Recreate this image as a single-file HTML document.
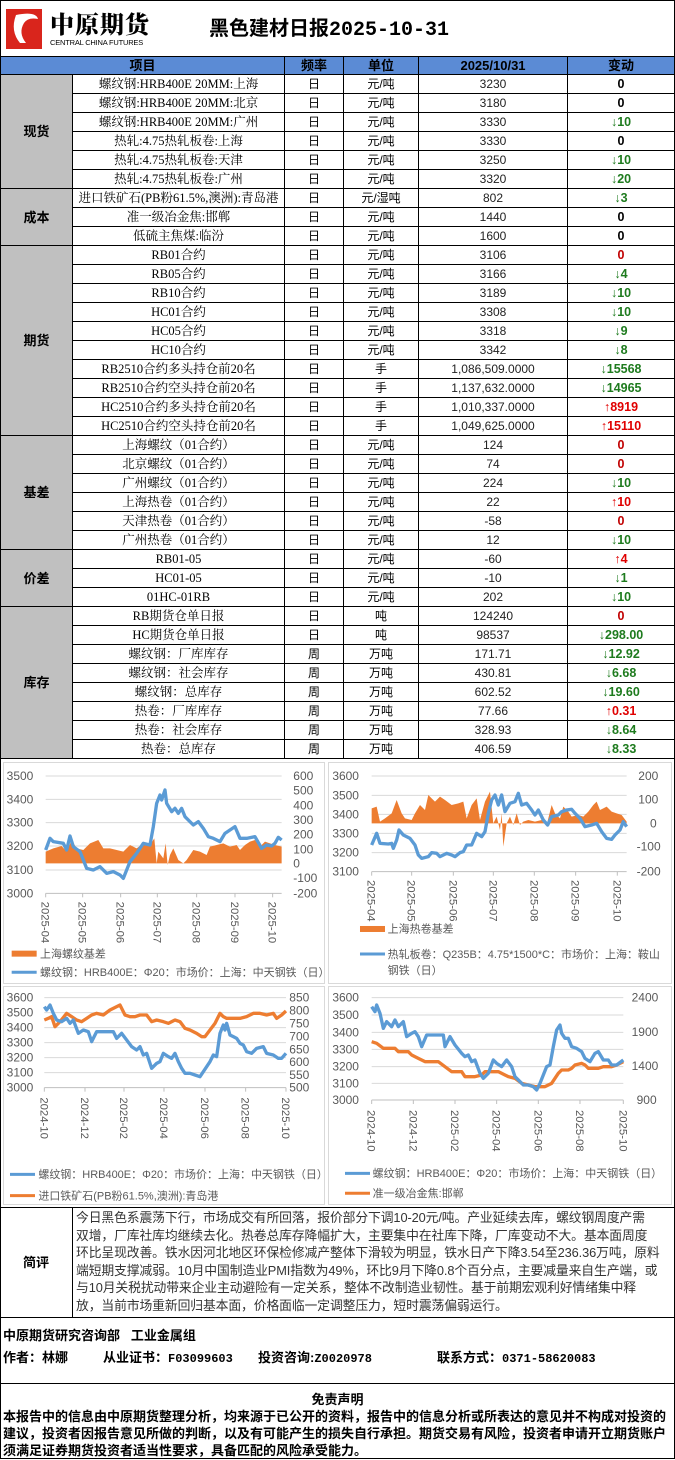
<!DOCTYPE html>
<html><head><meta charset="utf-8">
<style>
*{margin:0;padding:0;box-sizing:border-box}
body{width:675px;height:1460px;background:#fff;position:relative;overflow:hidden;font-family:"Liberation Sans","Noto Sans CJK SC",sans-serif;color:#000}
.abs{position:absolute}
table{position:absolute;left:0;top:56px;width:674px;border-collapse:collapse;table-layout:fixed;font-size:12px}
td{border:1px solid #000;height:19px;text-align:center;padding:0;line-height:17px;white-space:nowrap;overflow:hidden}
tr.h td{background:#5b8bd5;font-weight:bold;height:18px;font-size:13px}
td.g{background:#c0c0c0;font-weight:bold;font-size:13px}
td.it{font-family:"Liberation Serif","Noto Serif CJK SC",serif;font-size:12.5px}
td.v{font-family:"Liberation Sans Narrow","Liberation Sans",sans-serif;color:#222}
td.c{font-weight:bold;font-size:12.5px}
.dn{color:#1e7b1e}.up{color:#e00000}.r0{color:#c00000}
svg text{font-family:"Liberation Sans","Noto Sans CJK SC",sans-serif}
.nw{white-space:nowrap}
</style></head><body>
<div class="abs" style="left:0;top:0;width:675px;height:56px;border:1px solid #000;border-bottom:none"></div>
<svg class="abs" style="left:6px;top:9px" width="36" height="40"><rect x="0" y="0" width="36" height="40" fill="#d9251c"/><path d="M10 6 Q30 2 32 10 Q22 8 18 14 Q12 24 20 34 L14 34 Q4 22 10 6Z" fill="#fff"/></svg>
<div class="abs" style="left:50px;top:9px;font-family:'Noto Serif CJK SC',serif;font-weight:900;font-size:24px;letter-spacing:1px;line-height:28px">中原期货</div>
<div class="abs" style="left:50px;top:38px;font-size:7.5px;line-height:10px;letter-spacing:-0.2px">CENTRAL CHINA FUTURES</div>
<div class="abs" style="left:209px;top:16px;font-weight:bold;font-size:20px;line-height:26px">黑色建材日报<span style="font-family:'Liberation Mono',monospace;font-size:20px">2025-10-31</span></div>

<table>
<colgroup><col style="width:72px"><col style="width:212px"><col style="width:59px"><col style="width:75px"><col style="width:149px"><col style="width:107px"></colgroup>
<tr class="h"><td colspan="2">项目</td><td>频率</td><td>单位</td><td>2025/10/31</td><td>变动</td></tr>
<tr><td class="g" rowspan="6">现货</td><td class="it">螺纹钢:HRB400E 20MM:上海</td><td>日</td><td>元/吨</td><td class="v">3230</td><td class="c">0</td></tr>
<tr><td class="it">螺纹钢:HRB400E 20MM:北京</td><td>日</td><td>元/吨</td><td class="v">3180</td><td class="c">0</td></tr>
<tr><td class="it">螺纹钢:HRB400E 20MM:广州</td><td>日</td><td>元/吨</td><td class="v">3330</td><td class="c dn">↓10</td></tr>
<tr><td class="it">热轧:4.75热轧板卷:上海</td><td>日</td><td>元/吨</td><td class="v">3330</td><td class="c">0</td></tr>
<tr><td class="it">热轧:4.75热轧板卷:天津</td><td>日</td><td>元/吨</td><td class="v">3250</td><td class="c dn">↓10</td></tr>
<tr><td class="it">热轧:4.75热轧板卷:广州</td><td>日</td><td>元/吨</td><td class="v">3320</td><td class="c dn">↓20</td></tr>
<tr><td class="g" rowspan="3">成本</td><td class="it">进口铁矿石(PB粉61.5%,澳洲):青岛港</td><td>日</td><td>元/湿吨</td><td class="v">802</td><td class="c dn">↓3</td></tr>
<tr><td class="it">准一级冶金焦:邯郸</td><td>日</td><td>元/吨</td><td class="v">1440</td><td class="c">0</td></tr>
<tr><td class="it">低硫主焦煤:临汾</td><td>日</td><td>元/吨</td><td class="v">1600</td><td class="c">0</td></tr>
<tr><td class="g" rowspan="10">期货</td><td class="it">RB01合约</td><td>日</td><td>元/吨</td><td class="v">3106</td><td class="c r0">0</td></tr>
<tr><td class="it">RB05合约</td><td>日</td><td>元/吨</td><td class="v">3166</td><td class="c dn">↓4</td></tr>
<tr><td class="it">RB10合约</td><td>日</td><td>元/吨</td><td class="v">3189</td><td class="c dn">↓10</td></tr>
<tr><td class="it">HC01合约</td><td>日</td><td>元/吨</td><td class="v">3308</td><td class="c dn">↓10</td></tr>
<tr><td class="it">HC05合约</td><td>日</td><td>元/吨</td><td class="v">3318</td><td class="c dn">↓9</td></tr>
<tr><td class="it">HC10合约</td><td>日</td><td>元/吨</td><td class="v">3342</td><td class="c dn">↓8</td></tr>
<tr><td class="it">RB2510合约多头持仓前20名</td><td>日</td><td>手</td><td class="v">1,086,509.0000</td><td class="c dn">↓15568</td></tr>
<tr><td class="it">RB2510合约空头持仓前20名</td><td>日</td><td>手</td><td class="v">1,137,632.0000</td><td class="c dn">↓14965</td></tr>
<tr><td class="it">HC2510合约多头持仓前20名</td><td>日</td><td>手</td><td class="v">1,010,337.0000</td><td class="c up">↑8919</td></tr>
<tr><td class="it">HC2510合约空头持仓前20名</td><td>日</td><td>手</td><td class="v">1,049,625.0000</td><td class="c up">↑15110</td></tr>
<tr><td class="g" rowspan="6">基差</td><td class="it">上海螺纹（01合约）</td><td>日</td><td>元/吨</td><td class="v">124</td><td class="c r0">0</td></tr>
<tr><td class="it">北京螺纹（01合约）</td><td>日</td><td>元/吨</td><td class="v">74</td><td class="c r0">0</td></tr>
<tr><td class="it">广州螺纹（01合约）</td><td>日</td><td>元/吨</td><td class="v">224</td><td class="c dn">↓10</td></tr>
<tr><td class="it">上海热卷（01合约）</td><td>日</td><td>元/吨</td><td class="v">22</td><td class="c up">↑10</td></tr>
<tr><td class="it">天津热卷（01合约）</td><td>日</td><td>元/吨</td><td class="v">-58</td><td class="c r0">0</td></tr>
<tr><td class="it">广州热卷（01合约）</td><td>日</td><td>元/吨</td><td class="v">12</td><td class="c dn">↓10</td></tr>
<tr><td class="g" rowspan="3">价差</td><td class="it">RB01-05</td><td>日</td><td>元/吨</td><td class="v">-60</td><td class="c up">↑4</td></tr>
<tr><td class="it">HC01-05</td><td>日</td><td>元/吨</td><td class="v">-10</td><td class="c dn">↓1</td></tr>
<tr><td class="it">01HC-01RB</td><td>日</td><td>元/吨</td><td class="v">202</td><td class="c dn">↓10</td></tr>
<tr><td class="g" rowspan="8">库存</td><td class="it">RB期货仓单日报</td><td>日</td><td>吨</td><td class="v">124240</td><td class="c r0">0</td></tr>
<tr><td class="it">HC期货仓单日报</td><td>日</td><td>吨</td><td class="v">98537</td><td class="c dn">↓298.00</td></tr>
<tr><td class="it">螺纹钢：厂库库存</td><td>周</td><td>万吨</td><td class="v">171.71</td><td class="c dn">↓12.92</td></tr>
<tr><td class="it">螺纹钢：社会库存</td><td>周</td><td>万吨</td><td class="v">430.81</td><td class="c dn">↓6.68</td></tr>
<tr><td class="it">螺纹钢：总库存</td><td>周</td><td>万吨</td><td class="v">602.52</td><td class="c dn">↓19.60</td></tr>
<tr><td class="it">热卷：厂库库存</td><td>周</td><td>万吨</td><td class="v">77.66</td><td class="c up">↑0.31</td></tr>
<tr><td class="it">热卷：社会库存</td><td>周</td><td>万吨</td><td class="v">328.93</td><td class="c dn">↓8.64</td></tr>
<tr><td class="it">热卷：总库存</td><td>周</td><td>万吨</td><td class="v">406.59</td><td class="c dn">↓8.33</td></tr>
</table>

<svg class="abs" style="left:0;top:758px" width="675" height="450" viewBox="0 758 675 450">
<rect x="0.5" y="758.5" width="674" height="449" fill="none" stroke="#000"/>
<rect x="3.5" y="762.5" width="321" height="221" fill="#fff" stroke="#d9d9d9"/>
<rect x="328.5" y="762.5" width="343" height="221" fill="#fff" stroke="#d9d9d9"/>
<rect x="3.5" y="986.5" width="321" height="218" fill="#fff" stroke="#d9d9d9"/>
<rect x="328.5" y="986.5" width="343" height="218" fill="#fff" stroke="#d9d9d9"/>

<g transform="translate(0,760) scale(0.3333)">
<g stroke="#d9d9d9" stroke-width="3"><line x1="137" x2="845" y1="48" y2="48"/><line x1="137" x2="845" y1="118" y2="118"/><line x1="137" x2="845" y1="188" y2="188"/><line x1="137" x2="845" y1="258" y2="258"/><line x1="137" x2="845" y1="330" y2="330"/></g>
<line x1="137" x2="845" y1="400" y2="400" stroke="#bfbfbf" stroke-width="3"/>
<g stroke="#bfbfbf" stroke-width="3"><line x1="137" x2="137" y1="400" y2="412"/><line x1="248" x2="248" y1="400" y2="412"/><line x1="362" x2="362" y1="400" y2="412"/><line x1="472" x2="472" y1="400" y2="412"/><line x1="590" x2="590" y1="400" y2="412"/><line x1="705" x2="705" y1="400" y2="412"/><line x1="818" x2="818" y1="400" y2="412"/></g>
<polygon fill="#ed7d31" points="137,310 137,275 160,265 185,258 200,275 215,240 230,265 250,270 270,250 295,240 310,265 330,265 350,270 370,275 390,255 410,265 430,250 450,255 463,235 470,310 475,275 490,295 497,250 503,315 510,285 520,265 535,300 550,310 560,300 580,270 600,275 620,285 630,260 650,255 670,250 690,260 710,255 720,270 735,255 750,245 765,240 780,260 795,245 810,250 825,255 845,260 845,310"/>
<polyline fill="none" stroke="#5b9bd5" stroke-width="10" stroke-linejoin="round" points="137,270 150,235 160,245 190,250 200,270 210,228 220,260 240,275 260,325 280,330 300,320 320,340 340,335 360,345 370,355 390,305 410,280 430,250 450,255 460,200 470,130 480,105 485,120 495,90 500,130 515,155 525,145 535,160 545,145 555,170 580,195 595,185 610,205 625,230 640,235 660,245 675,220 690,210 705,200 720,235 740,235 765,230 785,265 800,255 815,258 825,250 835,232 845,240"/>
<g font-size="36" fill="#595959" text-anchor="end"><text x="100" y="60">3500</text><text x="100" y="130">3400</text><text x="100" y="200">3300</text><text x="100" y="270">3200</text><text x="100" y="342">3100</text><text x="100" y="412">3000</text></g>
<g font-size="36" fill="#595959"><text x="880" y="60">600</text><text x="880" y="104">500</text><text x="880" y="148">400</text><text x="880" y="192">300</text><text x="880" y="236">200</text><text x="880" y="280">100</text><text x="880" y="322">0</text><text x="880" y="366">-100</text><text x="880" y="412">-200</text></g>
<g font-size="34" fill="#595959"><text transform="translate(125,425) rotate(90)">2025-04</text><text transform="translate(236,425) rotate(90)">2025-05</text><text transform="translate(350,425) rotate(90)">2025-06</text><text transform="translate(460,425) rotate(90)">2025-07</text><text transform="translate(578,425) rotate(90)">2025-08</text><text transform="translate(693,425) rotate(90)">2025-09</text><text transform="translate(806,425) rotate(90)">2025-10</text></g>
<rect x="35" y="572" width="75" height="18" fill="#ed7d31"/>
<line x1="35" x2="110" y1="637" y2="637" stroke="#5b9bd5" stroke-width="9"/>
<g font-size="33" fill="#595959"><text x="120" y="592">上海螺纹基差</text><text x="120" y="648">螺纹钢：HRB400E：Φ20：市场价：上海：中天钢铁（日）</text></g>
</g>

<g transform="translate(325,760) scale(0.3333)">
<g stroke="#d9d9d9" stroke-width="3"><line x1="140" x2="905" y1="48" y2="48"/><line x1="140" x2="905" y1="106" y2="106"/><line x1="140" x2="905" y1="163" y2="163"/><line x1="140" x2="905" y1="220" y2="220"/><line x1="140" x2="905" y1="278" y2="278"/></g>
<line x1="140" x2="905" y1="335" y2="335" stroke="#bfbfbf" stroke-width="3"/>
<g stroke="#bfbfbf" stroke-width="3"><line x1="140" x2="140" y1="335" y2="347"/><line x1="260" x2="260" y1="335" y2="347"/><line x1="385" x2="385" y1="335" y2="347"/><line x1="505" x2="505" y1="335" y2="347"/><line x1="628" x2="628" y1="335" y2="347"/><line x1="752" x2="752" y1="335" y2="347"/><line x1="877" x2="877" y1="335" y2="347"/></g>
<polygon fill="#ed7d31" points="140,190 140,145 155,140 165,185 180,175 200,160 215,120 230,160 240,175 260,180 270,160 285,135 300,150 310,105 320,115 330,125 345,110 360,120 380,135 400,130 415,125 425,175 440,135 455,115 465,180 480,125 495,95 505,190 515,170 525,210 530,160 535,260 545,190 555,170 565,195 575,160 585,195 595,185 610,180 630,185 650,180 665,195 680,135 690,160 705,175 715,140 730,155 740,170 760,165 775,170 790,155 805,135 815,125 825,150 835,145 845,140 860,155 875,160 890,165 905,185 905,190"/>
<polyline fill="none" stroke="#5b9bd5" stroke-width="10" stroke-linejoin="round" points="140,255 155,220 165,250 190,252 200,250 205,265 215,240 222,210 235,225 255,235 270,255 280,285 290,295 310,290 320,278 335,280 345,290 365,280 380,285 390,290 405,278 415,275 425,255 440,255 455,220 470,230 480,215 490,160 500,120 510,105 520,135 530,105 540,155 555,130 570,125 580,100 590,135 605,130 620,150 630,165 640,150 655,180 668,195 680,170 700,165 710,155 725,150 740,148 750,160 765,175 780,200 800,195 815,190 830,215 845,235 860,238 870,225 885,210 895,185 905,200"/>
<g font-size="36" fill="#595959" text-anchor="end"><text x="102" y="60">3600</text><text x="102" y="118">3500</text><text x="102" y="175">3400</text><text x="102" y="232">3300</text><text x="102" y="290">3200</text><text x="102" y="347">3100</text></g>
<g font-size="36" fill="#595959"><text x="940" y="60">200</text><text x="940" y="130">100</text><text x="975" y="202">0</text><text x="935" y="272">-100</text><text x="935" y="347">-200</text></g>
<g font-size="34" fill="#595959"><text transform="translate(128,360) rotate(90)">2025-04</text><text transform="translate(248,360) rotate(90)">2025-05</text><text transform="translate(373,360) rotate(90)">2025-06</text><text transform="translate(493,360) rotate(90)">2025-07</text><text transform="translate(616,360) rotate(90)">2025-08</text><text transform="translate(740,360) rotate(90)">2025-09</text><text transform="translate(865,360) rotate(90)">2025-10</text></g>
<rect x="105" y="498" width="75" height="18" fill="#ed7d31"/>
<line x1="105" x2="180" y1="582" y2="582" stroke="#5b9bd5" stroke-width="9"/>
<g font-size="33" fill="#595959"><text x="188" y="518">上海热卷基差</text><text x="188" y="594">热轧板卷：Q235B：4.75*1500*C：市场价：上海：鞍山</text><text x="188" y="642">钢铁（日）</text></g>
</g>

<g transform="translate(0,980) scale(0.3333)">
<g stroke="#d9d9d9" stroke-width="3"><line x1="133" x2="858" y1="53" y2="53"/><line x1="133" x2="858" y1="98" y2="98"/><line x1="133" x2="858" y1="143" y2="143"/><line x1="133" x2="858" y1="188" y2="188"/><line x1="133" x2="858" y1="233" y2="233"/><line x1="133" x2="858" y1="278" y2="278"/></g>
<line x1="133" x2="858" y1="323" y2="323" stroke="#bfbfbf" stroke-width="3"/>
<g stroke="#bfbfbf" stroke-width="3"><line x1="133" x2="133" y1="323" y2="335"/><line x1="255" x2="255" y1="323" y2="335"/><line x1="372" x2="372" y1="323" y2="335"/><line x1="492" x2="492" y1="323" y2="335"/><line x1="615" x2="615" y1="323" y2="335"/><line x1="737" x2="737" y1="323" y2="335"/><line x1="858" x2="858" y1="323" y2="335"/></g>
<polyline fill="none" stroke="#ed7d31" stroke-width="10" stroke-linejoin="round" points="133,120 145,115 155,110 165,140 180,125 200,100 215,110 230,120 245,125 260,115 275,105 290,100 310,105 330,90 360,75 375,105 390,110 405,110 420,105 440,105 455,125 470,120 490,125 505,130 525,120 540,125 555,145 570,150 590,160 605,170 615,170 630,150 645,130 660,100 670,110 680,115 700,115 720,115 740,110 760,100 780,100 800,105 820,100 830,115 845,105 858,93"/>
<polyline fill="none" stroke="#5b9bd5" stroke-width="10" stroke-linejoin="round" points="133,80 140,90 150,75 160,100 170,120 185,125 200,115 210,130 220,120 235,160 250,150 265,155 275,185 290,155 310,155 340,155 350,175 365,160 380,180 395,200 410,210 420,200 430,225 440,220 455,265 470,250 480,245 490,220 505,230 515,235 525,220 535,245 545,265 555,280 570,280 585,285 600,290 610,275 620,260 630,245 640,225 650,230 660,160 670,135 675,150 680,130 690,165 700,170 710,175 720,190 730,195 740,215 755,220 770,205 790,200 800,220 820,225 835,235 845,235 858,220"/>
<g font-size="36" fill="#595959" text-anchor="end"><text x="100" y="65">3600</text><text x="100" y="110">3500</text><text x="100" y="155">3400</text><text x="100" y="200">3300</text><text x="100" y="245">3200</text><text x="100" y="290">3100</text><text x="100" y="335">3000</text></g>
<g font-size="36" fill="#595959"><text x="868" y="65">850</text><text x="868" y="104">800</text><text x="868" y="142">750</text><text x="868" y="181">700</text><text x="868" y="220">650</text><text x="868" y="258">600</text><text x="868" y="297">550</text><text x="868" y="335">500</text></g>
<g font-size="34" fill="#595959"><text transform="translate(121,352) rotate(90)">2024-10</text><text transform="translate(243,352) rotate(90)">2024-12</text><text transform="translate(360,352) rotate(90)">2025-02</text><text transform="translate(480,352) rotate(90)">2025-04</text><text transform="translate(603,352) rotate(90)">2025-06</text><text transform="translate(725,352) rotate(90)">2025-08</text><text transform="translate(846,352) rotate(90)">2025-10</text></g>
<line x1="30" x2="105" y1="583" y2="583" stroke="#5b9bd5" stroke-width="9"/>
<line x1="30" x2="105" y1="647" y2="647" stroke="#ed7d31" stroke-width="9"/>
<g font-size="33" fill="#595959"><text x="115" y="594">螺纹钢：HRB400E：Φ20：市场价：上海：中天钢铁（日）</text><text x="115" y="658">进口铁矿石(PB粉61.5%,澳洲):青岛港</text></g>
</g>

<g transform="translate(325,980) scale(0.3333)">
<g stroke="#d9d9d9" stroke-width="3"><line x1="140" x2="895" y1="53" y2="53"/><line x1="140" x2="895" y1="105" y2="105"/><line x1="140" x2="895" y1="157" y2="157"/><line x1="140" x2="895" y1="208" y2="208"/><line x1="140" x2="895" y1="260" y2="260"/><line x1="140" x2="895" y1="310" y2="310"/></g>
<line x1="140" x2="895" y1="360" y2="360" stroke="#bfbfbf" stroke-width="3"/>
<g stroke="#bfbfbf" stroke-width="3"><line x1="140" x2="140" y1="360" y2="372"/><line x1="265" x2="265" y1="360" y2="372"/><line x1="390" x2="390" y1="360" y2="372"/><line x1="515" x2="515" y1="360" y2="372"/><line x1="640" x2="640" y1="360" y2="372"/><line x1="765" x2="765" y1="360" y2="372"/><line x1="895" x2="895" y1="360" y2="372"/></g>
<polyline fill="none" stroke="#ed7d31" stroke-width="10" stroke-linejoin="round" points="140,185 155,190 175,205 210,205 220,215 250,215 260,225 280,235 300,245 340,245 360,260 380,275 410,275 420,290 450,290 470,285 480,275 520,275 540,285 550,290 570,295 590,310 610,315 630,320 660,320 670,315 680,310 690,295 700,280 710,270 730,270 740,265 750,255 770,250 780,255 790,265 820,265 835,260 860,260 875,255 895,245"/>
<polyline fill="none" stroke="#5b9bd5" stroke-width="10" stroke-linejoin="round" points="140,80 150,95 155,75 165,100 175,145 185,125 200,140 210,120 220,140 235,125 245,170 260,160 270,155 280,170 290,200 305,165 340,165 355,165 360,200 375,170 390,195 410,220 420,230 430,225 440,245 450,240 465,280 475,295 490,280 505,240 515,250 530,260 545,240 560,260 570,290 580,300 595,315 610,315 625,320 635,330 645,310 655,285 665,260 675,255 685,200 695,150 705,135 710,160 720,175 730,175 740,200 755,205 770,215 780,235 795,245 810,220 820,215 835,240 850,240 860,255 875,255 895,240"/>
<g font-size="36" fill="#595959" text-anchor="end"><text x="102" y="65">3600</text><text x="102" y="117">3500</text><text x="102" y="169">3400</text><text x="102" y="220">3300</text><text x="102" y="272">3200</text><text x="102" y="322">3100</text><text x="102" y="372">3000</text></g>
<g font-size="36" fill="#595959"><text x="920" y="65">2400</text><text x="920" y="168">1900</text><text x="920" y="270">1400</text><text x="935" y="372">900</text></g>
<g font-size="34" fill="#595959"><text transform="translate(128,390) rotate(90)">2024-10</text><text transform="translate(253,390) rotate(90)">2024-12</text><text transform="translate(378,390) rotate(90)">2025-02</text><text transform="translate(503,390) rotate(90)">2025-04</text><text transform="translate(628,390) rotate(90)">2025-06</text><text transform="translate(753,390) rotate(90)">2025-08</text><text transform="translate(883,390) rotate(90)">2025-10</text></g>
<line x1="60" x2="135" y1="580" y2="580" stroke="#5b9bd5" stroke-width="9"/>
<line x1="60" x2="135" y1="640" y2="640" stroke="#ed7d31" stroke-width="9"/>
<g font-size="33" fill="#595959"><text x="143" y="591">螺纹钢：HRB400E：Φ20：市场价：上海：中天钢铁（日）</text><text x="143" y="651">准一级冶金焦:邯郸</text></g>
</g>
</svg>

<div class="abs" style="left:0;top:1207px;width:675px;height:111px;border:1px solid #000"></div>
<div class="abs" style="left:72px;top:1207px;width:1px;height:111px;background:#000"></div>
<div class="abs" style="left:0;top:1252px;width:72px;text-align:center;font-weight:bold;font-size:13px">简评</div>
<div class="abs nw" style="left:76px;top:1209px;font-size:12.8px;line-height:17.6px;color:#333;letter-spacing:-0.1px">今日黑色系震荡下行，市场成交有所回落，报价部分下调10-20元/吨。产业延续去库，螺纹钢周度产需<br>双增，厂库社库均继续去化。热卷总库存降幅扩大，主要集中在社库下降，厂库变动不大。基本面周度<br>环比呈现改善。铁水因河北地区环保检修减产整体下滑较为明显，铁水日产下降3.54至236.36万吨，原料<br>端短期支撑减弱。10月中国制造业PMI指数为49%，环比9月下降0.8个百分点，主要减量来自生产端，或<br>与10月关税扰动带来企业主动避险有一定关系，整体不改制造业韧性。基于前期宏观利好情绪集中释<br>放，当前市场重新回归基本面，价格面临一定调整压力，短时震荡偏弱运行。</div>

<div class="abs" style="left:0;top:1317px;width:675px;height:67px;border:1px solid #000;border-top:none"></div>
<div class="abs" style="left:3px;top:1327px;font-weight:bold;font-size:13px;line-height:18px">中原期货研究咨询部&nbsp;&nbsp;&nbsp;工业金属组</div>
<div class="abs" style="left:3px;top:1349px;font-weight:bold;font-size:13px;line-height:18px">作者：林娜</div>
<div class="abs" style="left:103px;top:1349px;font-weight:bold;font-size:13px;line-height:18px">从业证书：<span style="font-family:'Liberation Mono',monospace;font-size:12px">F03099603</span></div>
<div class="abs" style="left:258px;top:1349px;font-weight:bold;font-size:13px;line-height:18px">投资咨询:<span style="font-family:'Liberation Mono',monospace;font-size:12px">Z0020978</span></div>
<div class="abs" style="left:437px;top:1349px;font-weight:bold;font-size:13px;line-height:18px">联系方式：<span style="font-family:'Liberation Mono',monospace;font-size:12px">0371-58620083</span></div>

<div class="abs" style="left:0;top:1384px;width:675px;height:75px;border:1px solid #000;border-top:none"></div>
<div class="abs" style="left:0;top:1392px;width:675px;text-align:center;font-weight:bold;font-size:13px;line-height:16px">免责声明</div>
<div class="abs nw" style="left:3px;top:1408px;font-weight:bold;font-size:13px;line-height:17px">本报告中的信息由中原期货整理分析，均来源于已公开的资料，报告中的信息分析或所表达的意见并不构成对投资的<br>建议，投资者因报告意见所做的判断，以及有可能产生的损失自行承担。期货交易有风险，投资者申请开立期货账户<br>须满足证券期货投资者适当性要求，具备匹配的风险承受能力。</div>
</body></html>
